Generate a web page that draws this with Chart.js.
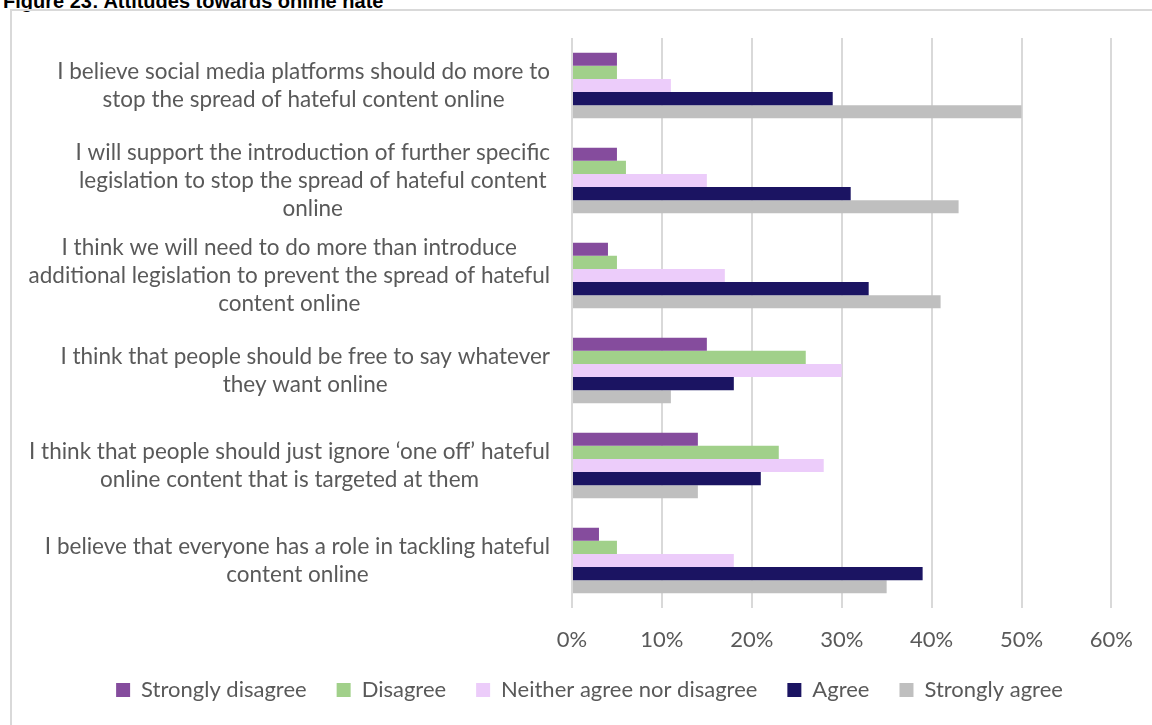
<!DOCTYPE html>
<html><head><meta charset="utf-8">
<script src="https://cdn.jsdelivr.net/npm/chart.js@4.4.1/dist/chart.umd.min.js"></script>
<style>
html,body{margin:0;padding:0;overflow:hidden;background:#fff;width:1152px;height:725px;}
#title{position:absolute;left:3px;top:-9px;font:bold 20px/20px "Liberation Sans",Arial,sans-serif;color:#000;white-space:nowrap;}
#frame{position:absolute;left:10px;top:9px;width:1200px;height:800px;border:2px solid #d9d9d9;box-sizing:border-box;}
#wrap{position:absolute;left:0;top:0;width:1152px;height:711px;}
</style></head><body>
<div id="title">Figure 23: Attitudes towards online hate</div>
<div id="frame"></div>
<div id="wrap"><canvas id="c" width="1152" height="711"></canvas></div>
<script>
const categories = [
  ["I believe social media platforms should do more to", "stop the spread of hateful content online"],
  ["I will support the introduction of further specific", "legislation to stop the spread of hateful content", "online"],
  ["I think we will need to do more than introduce", "additional legislation to prevent the spread of hateful", "content online"],
  ["I think that people should be free to say whatever", "they want online"],
  ["I think that people should just ignore \u2018one off\u2019 hateful", "online content that is targeted at them"],
  ["I believe that everyone has a role in tackling hateful", "content online"]
];
const seriesNames = ["Strongly disagree", "Disagree", "Neither agree nor disagree", "Agree", "Strongly agree"];
const stronglyDisagree = [5, 5, 4, 15, 14, 3];
const disagree = [5, 6, 5, 26, 23, 5];
const neither = [11, 15, 17, 30, 28, 18];
const agree = [29, 31, 33, 18, 21, 39];
const stronglyAgree = [50, 43, 41, 11, 14, 35];
const xTickValues = [0, 10, 20, 30, 40, 50, 60];
const colors = ["#854C9D", "#A1D08A", "#ECCCFA", "#1B1462", "#BFBFBF"];

const values = [stronglyDisagree, disagree, neither, agree, stronglyAgree];
const FONT = "Lato, 'Open Sans', sans-serif";
const TXT = "#595959";
const LABEL_SIZE = 22.5;
const LINE_H = 28;

const yLabelPlugin = {
  id: 'yLabels',
  afterDraw(chart) {
    const s = chart.scales.y;
    const ctx = chart.ctx;
    ctx.save();
    ctx.font = LABEL_SIZE + 'px ' + FONT;
    ctx.fillStyle = TXT;
    ctx.textAlign = 'center';
    ctx.textBaseline = 'middle';
    categories.forEach((lines, i) => {
      const y = s.getPixelForTick(i);
      const w = Math.max(...lines.map(l => ctx.measureText(l).width));
      const cx = s.right - 22 - w / 2;
      lines.forEach((l, j) => ctx.fillText(l, cx, y + (j - (lines.length - 1) / 2) * LINE_H));
    });
    ctx.restore();
  }
};

new Chart(document.getElementById('c'), {
  type: 'bar',
  data: {
    labels: categories,
    datasets: seriesNames.map((n, i) => ({
      label: n,
      data: values[i],
      backgroundColor: colors[i],
      borderWidth: 0,
      categoryPercentage: 0.69,
      barPercentage: 1.0
    }))
  },
  plugins: [yLabelPlugin],
  options: {
    indexAxis: 'y',
    responsive: false,
    animation: false,
    devicePixelRatio: 1,
    layout: { padding: { left: 67, right: 40, top: 38, bottom: 0 } },
    plugins: {
      tooltip: { enabled: false },
      legend: {
        position: 'bottom',
        labels: {
          boxWidth: 14, boxHeight: 14, padding: 30,
          color: TXT, font: { family: FONT, size: 22 }
        }
      }
    },
    scales: {
      x: {
        min: 0, max: 60,
        afterBuildTicks: (s) => { s.ticks = xTickValues.map(v => ({ value: v })); },
        afterFit: (s) => { s.height = 41; },
        ticks: { callback: (v) => v + '%', color: TXT, font: { family: FONT, size: 22 }, padding: 19 },
        grid: { color: '#D9D9D9', lineWidth: 2, drawTicks: false },
        border: { display: false }
      },
      y: {
        afterFit: (s) => { s.width = 505; },
        ticks: { display: false },
        grid: { display: false, drawTicks: false },
        border: { display: false }
      }
    }
  }
});
</script>
</body></html>
